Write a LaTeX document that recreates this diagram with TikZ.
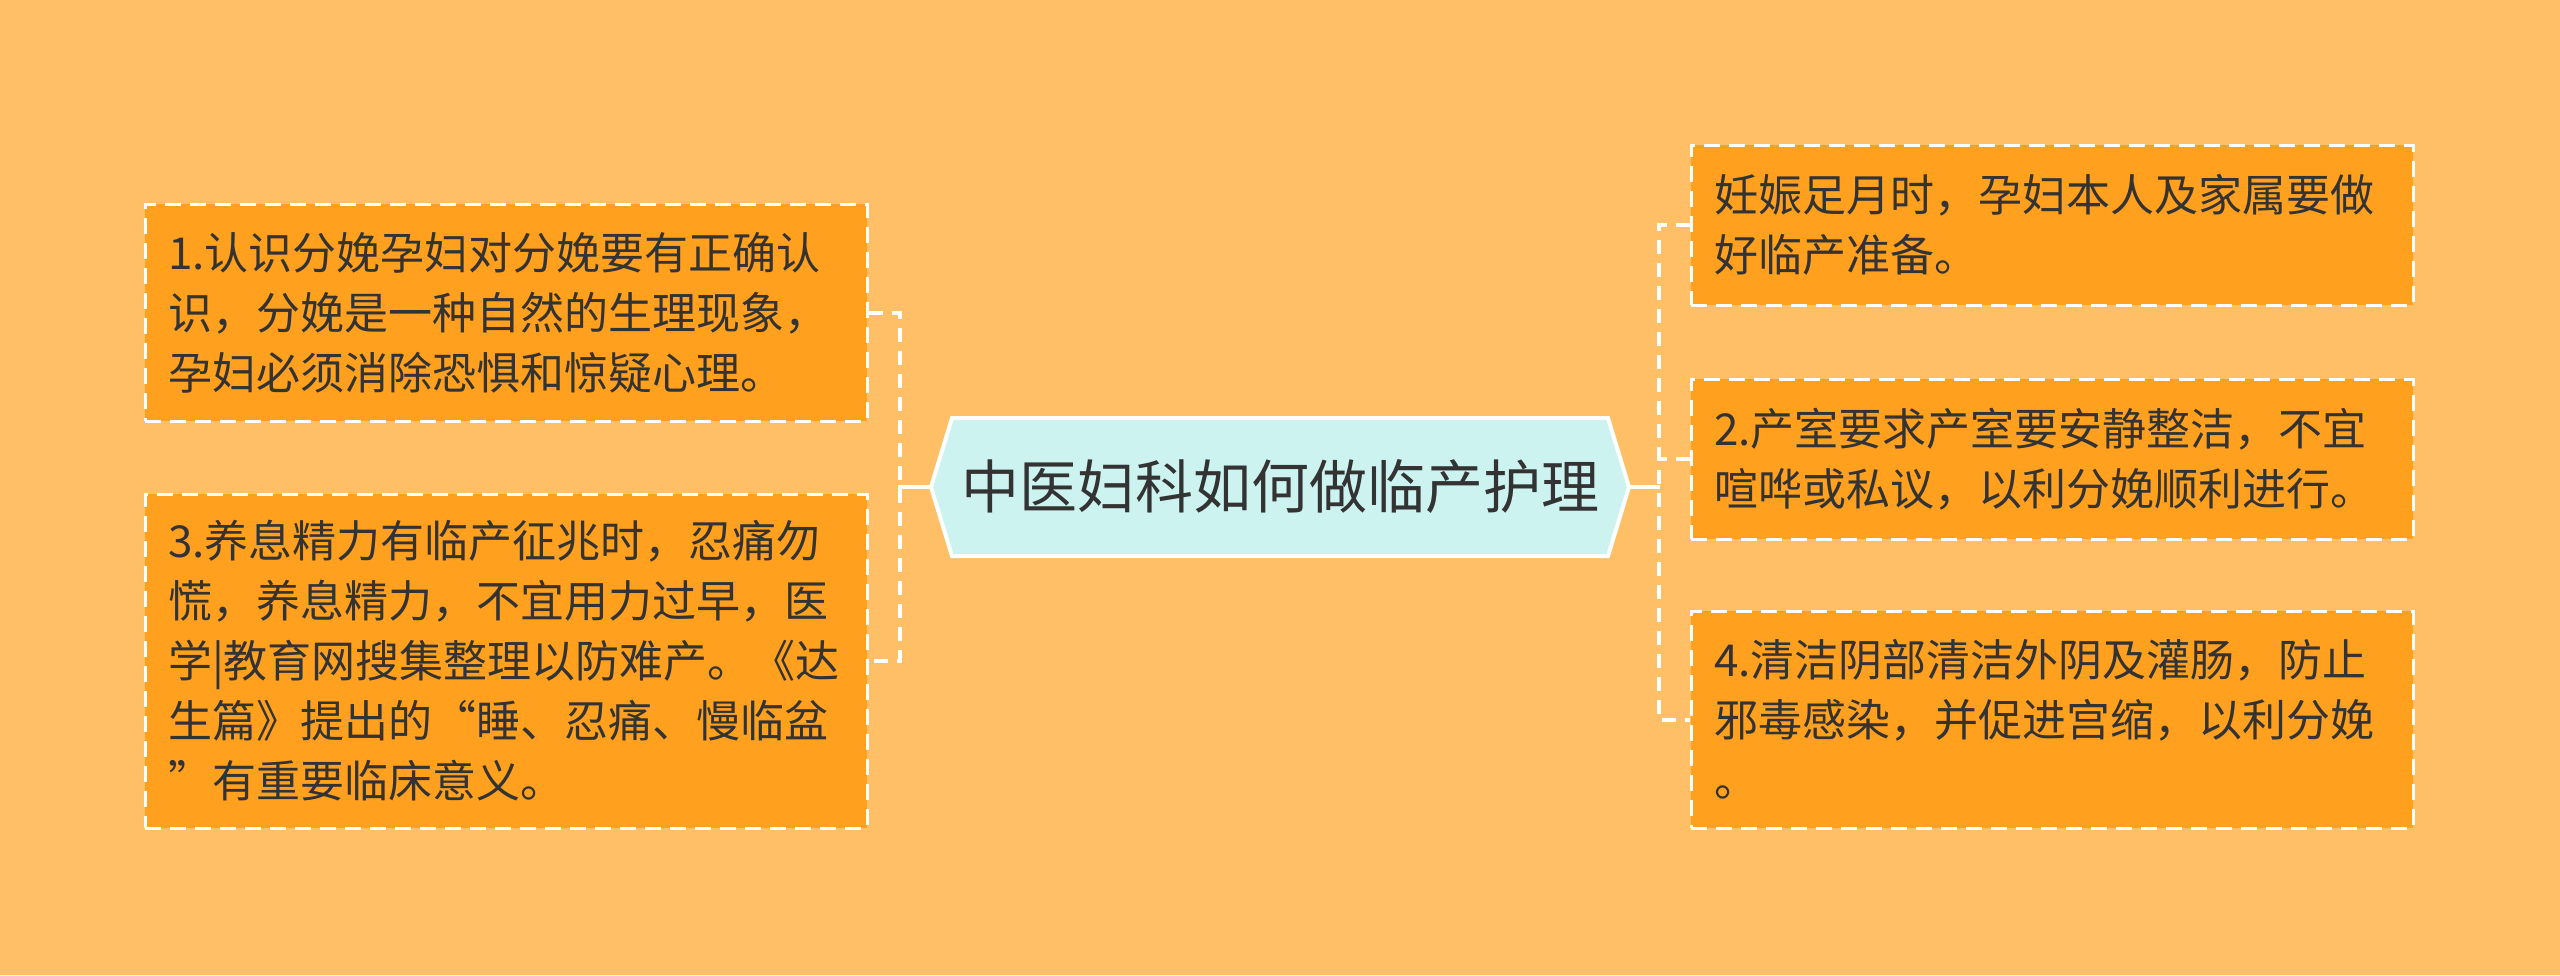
\documentclass[tikz,border=0pt]{standalone}
\usepackage{fontspec}
\setmainfont{Noto Sans CJK SC}
\usetikzlibrary{calc}
\definecolor{bgc}{HTML}{FFBF66}
\definecolor{boxc}{HTML}{FFA01F}
\definecolor{hexc}{HTML}{CCF3F0}
\definecolor{txtc}{HTML}{333333}
\begin{document}
\begin{tikzpicture}[x=0.5pt,y=-0.5pt,
  box/.style={draw=white, line width=1.5pt, dash pattern=on 8pt off 4.5pt, fill=boxc, text=txtc,
    text width=338pt, align=left, inner xsep=11.5pt, inner ysep=0pt,
    font=\fontsize{22pt}{30pt}\selectfont},
  conn/.style={draw=white, line width=2pt, dash pattern=on 7pt off 4.5pt},
  link/.style={draw=white, line width=2pt},
  hex/.style={fill=hexc, draw=white, line width=2pt, line join=miter},
  roottext/.style={text=txtc, font=\fontsize{29pt}{34pt}\selectfont, inner sep=0pt}]
\path[use as bounding box, fill=bgc] (0,0) rectangle (2560,975);

% central hexagon
\coordinate (rl) at (931,487);
\coordinate (rr) at (1629,487);
\draw[hex] (952,418) -- (1608,418) -- (rr) -- (1608,556) -- (952,556) -- (rl) -- cycle;
\node[roottext] (root) at (1280,487) {中医妇科如何做临产护理};

% left boxes
\node[box, minimum height=108.5pt] (b1) at (506,312.5) {1.认识分娩孕妇对分娩要有正确认\\识，分娩是一种自然的生理现象，\\孕妇必须消除恐惧和惊疑心理。};
\node[box, minimum height=167pt] (b3) at (506,661) {3.养息精力有临产征兆时，忍痛勿\\慌，养息精力，不宜用力过早，医\\学|教育网搜集整理以防难产。《达\\生篇》提出的“睡、忍痛、慢临盆\\”有重要临床意义。};

% right boxes
\node[box, minimum height=80pt] (bA) at (2052,225) {妊娠足月时，孕妇本人及家属要做\\好临产准备。};
\node[box, minimum height=80pt] (b2) at (2052,459) {2.产室要求产室要安静整洁，不宜\\喧哗或私议，以利分娩顺利进行。};
\node[box, minimum height=108.5pt] (b4) at (2052,719.5) {4.清洁阴部清洁外阴及灌肠，防止\\邪毒感染，并促进宫缩，以利分娩\\。};

% connectors
\coordinate (jl) at (898,487);
\coordinate (jr) at (1660,487);
\draw[link] (rl) -- (jl);
\draw[conn] (b1.east) -- ++(31,0) |- (b3.east);
\draw[link] (rr) -- (jr);
\draw[conn] (bA.west) -- ++(-31,0) |- (b4.west);
\draw[conn] (b2.west) -- ++(-31,0);
\end{tikzpicture}
\end{document}
